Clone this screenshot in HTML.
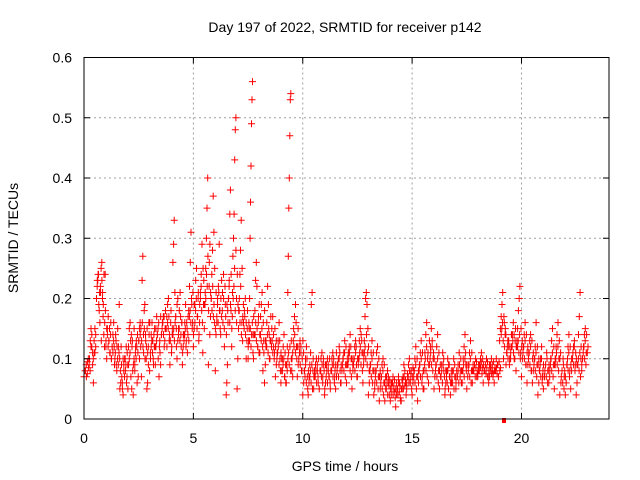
<!DOCTYPE html>
<html><head><meta charset="utf-8"><style>
html,body{margin:0;padding:0;background:#fff;}
svg{display:block;font-family:"Liberation Sans",sans-serif;}
</style></head><body>
<svg id="chart" width="640" height="480" viewBox="0 0 640 480" xmlns="http://www.w3.org/2000/svg">
<text x="345" y="32" font-size="14" text-anchor="middle" fill="#000">Day 197 of 2022, SRMTID for receiver p142</text>
<text x="345" y="471" font-size="14" text-anchor="middle" fill="#000">GPS time / hours</text>
<text x="18" y="238" font-size="14" text-anchor="middle" fill="#000" transform="rotate(-90 18 238)">SRMTID / TECUs</text>
<g id="grid"></g>
<g id="marks"></g>
<rect x="84" y="57.5" width="525" height="361.5" fill="none" stroke="#000" stroke-width="1"/>
<g id="ticks"></g>
</svg>
<script>
const xTicks = [0,5,10,15,20];
const yTicks = [0,0.1,0.2,0.3,0.4,0.5,0.6];
const yTickLabels = ["0","0.1","0.2","0.3","0.4","0.5","0.6"];
const slotTimes = [0,0.25,0.5,0.75,1,1.25,1.5,1.75,2,2.25,2.5,2.75,3,3.25,3.5,3.75,4,4.25,4.5,4.75,5,5.25,5.5,5.75,6,6.25,6.5,6.75,7,7.25,7.5,7.75,8,8.25,8.5,8.75,9,9.25,9.5,9.75,10,10.25,10.5,10.75,11,11.25,11.5,11.75,12,12.25,12.5,12.75,13,13.25,13.5,13.75,14,14.25,14.5,14.75,15,15.25,15.5,15.75,16,16.25,16.5,16.75,17,17.25,17.5,17.75,18,18.25,18.5,18.75,19,19.25,19.5,19.75,20,20.25,20.5,20.75,21,21.25,21.5,21.75,22,22.25,22.5,22.75];
const slotValues = [
[.07,.08,.09,.075,.085],[.1,.13,.15,.12,.09,.06,.11],[.11,.14,.2,.23,.24,.19,.21],[.22,.25,.26,.2,.17,.14,.12,.24],
[.12,.1,.15,.17,.13,.11,.14],[.1,.12,.14,.16,.09,.11,.13],[.08,.1,.12,.19,.05,.06,.09],[.06,.04,.09,.1,.08,.12,.07],
[.09,.12,.15,.16,.07,.05,.13],[.04,.1,.08,.12,.13,.06,.11],[.13,.15,.16,.12,.07,.23,.27,.14],[.18,.19,.14,.1,.05,.06,.12,.16],
[.08,.11,.14,.16,.13,.09,.12],[.12,.15,.17,.14,.1,.07,.13],[.09,.14,.16,.17,.12,.15],[.15,.17,.19,.2,.13,.09,.16],
[.11,.14,.26,.29,.33,.21,.17,.15],[.1,.13,.15,.18,.21,.14,.16],[.09,.12,.14,.16,.19,.13,.15],[.14,.18,.22,.26,.31,.19,.16],
[.12,.15,.19,.23,.25,.17,.2],[.13,.16,.21,.24,.29,.11,.19],[.15,.19,.25,.3,.35,.4,.09,.22],[.14,.17,.2,.24,.28,.37,.31,.16],
[.08,.14,.16,.2,.22,.29,.18],[.14,.17,.21,.24,.12,.19],[.04,.06,.09,.16,.2,.23,.34,.38,.18],[.12,.17,.27,.3,.34,.43,.48,.5,.2],
[.05,.1,.15,.18,.24,.28,.33,.16],[.13,.16,.18,.2,.1,.15],[.1,.13,.15,.2,.3,.36,.42,.49,.53,.56,.14],[.1,.14,.18,.23,.26,.22,.12,.16],
[.11,.14,.17,.19,.21,.08,.13],[.06,.09,.12,.16,.22,.19,.14],[.1,.13,.15,.17,.12,.11],[.07,.09,.11,.13,.16,.1],
[.06,.08,.1,.12,.14,.07,.09],[.06,.09,.12,.21,.27,.35,.4,.47,.53,.54,.1],[.08,.11,.15,.17,.19,.12],[.07,.09,.12,.13,.11,.08],
[.04,.06,.08,.1,.12,.07],[.04,.06,.09,.11,.19,.21,.08],[.05,.07,.09,.1,.08,.06],[.05,.08,.1,.11,.07,.09],
[.04,.06,.09,.1,.08,.07],[.06,.08,.1,.11,.09,.07],[.05,.07,.09,.1,.12,.08],[.06,.08,.1,.11,.13,.09],
[.06,.09,.11,.12,.14,.1],[.05,.08,.1,.12,.13,.09],[.07,.1,.13,.15,.14,.11],[.06,.09,.13,.17,.2,.21,.19,.11],
[.04,.06,.09,.11,.13,.08],[.04,.06,.08,.11,.12,.07],[.03,.05,.07,.09,.1,.06],[.03,.05,.07,.08,.06,.04],
[.03,.04,.06,.07,.05,.045],[.02,.04,.05,.07,.06,.035],[.03,.05,.07,.09,.08,.06],[.05,.07,.09,.1,.06,.08],
[.04,.06,.08,.1,.12,.07],[.03,.06,.09,.11,.13,.07],[.05,.08,.11,.14,.16,.1],[.06,.09,.12,.15,.13,.1],
[.05,.07,.09,.12,.14,.08],[.05,.07,.09,.11,.08],[.04,.06,.08,.1,.09,.07],[.04,.06,.08,.1,.07],
[.05,.07,.09,.11,.08],[.06,.08,.1,.12,.14,.09],[.05,.07,.09,.11,.13,.08],[.06,.08,.09,.1,.07],
[.07,.08,.09,.1,.11,.085],[.06,.08,.09,.1,.07],[.06,.07,.09,.1,.08,.075],[.06,.08,.1,.09,.07],
[.13,.15,.17,.19,.21,.1,.16],[.14,.09,.11,.13,.12,.1],[.1,.12,.14,.16,.1,.13],[.08,.12,.15,.18,.2,.22,.11],
[.07,.1,.12,.14,.16,.09],[.06,.09,.11,.13,.14,.08],[.06,.08,.1,.12,.16,.09],[.04,.06,.08,.1,.12,.07],
[.05,.07,.09,.11,.08],[.06,.08,.1,.13,.15,.09],[.05,.09,.12,.14,.16,.1],[.04,.06,.08,.1,.07],
[.04,.06,.09,.12,.14,.08],[.05,.08,.1,.12,.13,.09],[.04,.06,.09,.14,.17,.21,.1],[.08,.1,.12,.14,.15,.11]
];
const slotValuesB = [
[.08,.07,.095,.1,.09,.08],[.12,.14,.11,.1,.13,.15,.12],[.2,.22,.23,.24,.18,.16,.21,.13],[.23,.21,.19,.24,.16,.18,.13,.15],
[.14,.12,.13,.15,.11,.16,.1,.12],[.11,.13,.12,.1,.14,.09,.12,.15],[.09,.11,.1,.08,.12,.07,.05,.1],[.08,.07,.1,.09,.06,.11,.05,.09],
[.1,.11,.13,.14,.12,.08,.09,.15],[.09,.11,.1,.12,.14,.07,.13,.1],[.14,.15,.13,.16,.12,.11,.15,.1],[.13,.12,.15,.11,.09,.14,.16,.1],
[.12,.13,.11,.1,.14,.15,.09,.12],[.13,.14,.15,.16,.12,.11,.17,.14],[.15,.16,.14,.17,.13,.18,.15,.12],[.16,.15,.17,.14,.13,.18,.12,.15],
[.14,.15,.13,.16,.17,.12,.19,.2],[.14,.15,.13,.17,.12,.16,.11,.14],[.13,.14,.15,.12,.16,.11,.17,.13],[.17,.18,.16,.2,.15,.21,.14,.19],
[.16,.18,.2,.15,.17,.21,.14,.19],[.2,.22,.18,.16,.25,.23,.19,.21],[.2,.24,.22,.27,.18,.26,.29,.21],[.2,.18,.22,.17,.19,.25,.15,.21],
[.17,.19,.16,.21,.18,.15,.2,.23],[.18,.16,.2,.15,.22,.17,.14,.19],[.18,.2,.22,.16,.19,.24,.15,.21],[.2,.22,.25,.18,.28,.16,.24,.19],
[.18,.2,.16,.22,.14,.25,.17,.19],[.15,.17,.14,.16,.13,.18,.12,.16],[.13,.15,.12,.14,.16,.11,.17,.14],[.14,.16,.13,.15,.12,.17,.19,.11],
[.14,.13,.15,.12,.16,.11,.18,.13],[.13,.12,.14,.11,.15,.1,.13,.17],[.12,.13,.11,.14,.1,.15,.12,.13],[.1,.11,.12,.09,.13,.08,.11,.1],
[.08,.09,.1,.07,.11,.06,.09,.08],[.1,.11,.09,.12,.08,.13,.1,.07],[.13,.12,.14,.11,.16,.1,.12,.15],[.1,.11,.09,.12,.08,.1,.13,.11],
[.08,.07,.09,.06,.1,.05,.08,.07],[.07,.08,.06,.09,.05,.1,.07,.08],[.07,.08,.06,.09,.07,.1,.05,.08],[.08,.07,.09,.06,.1,.08,.05,.09],
[.07,.08,.06,.09,.07,.1,.05,.08],[.08,.09,.07,.1,.06,.08,.09,.11],[.08,.09,.07,.1,.11,.06,.09,.08],[.09,.1,.08,.11,.07,.12,.09,.1],
[.09,.1,.11,.08,.12,.07,.1,.09],[.09,.1,.08,.11,.12,.07,.1,.09],[.1,.11,.12,.09,.13,.08,.11,.1],[.11,.12,.1,.14,.09,.15,.12,.08],
[.08,.09,.07,.1,.06,.11,.08,.05],[.07,.08,.06,.09,.05,.1,.07,.08],[.06,.07,.05,.08,.04,.09,.06,.07],[.05,.06,.04,.07,.055,.065,.05,.06],
[.05,.06,.04,.055,.065,.035,.05,.06],[.05,.04,.06,.045,.055,.03,.05,.065],[.06,.05,.07,.055,.065,.04,.06,.075],[.07,.06,.08,.065,.075,.05,.07,.085],
[.07,.08,.06,.09,.05,.1,.07,.08],[.08,.09,.07,.1,.06,.11,.08,.05],[.09,.1,.08,.12,.07,.11,.09,.13],[.1,.11,.09,.12,.08,.11,.1,.07],
[.08,.09,.07,.1,.06,.11,.08,.09],[.07,.08,.06,.09,.1,.07,.05,.08],[.07,.06,.08,.05,.09,.07,.06,.08],[.07,.06,.08,.05,.09,.07,.06,.08],
[.07,.08,.06,.09,.07,.1,.08,.06],[.08,.09,.07,.1,.11,.08,.09,.07],[.08,.09,.07,.1,.06,.11,.08,.09],[.08,.09,.07,.085,.095,.075,.08,.09],
[.08,.09,.085,.095,.075,.1,.09,.08],[.08,.09,.075,.085,.095,.07,.08,.09],[.08,.085,.075,.09,.07,.095,.08,.085],[.08,.085,.075,.09,.07,.095,.08,.085],
[.14,.15,.16,.13,.17,.12,.15,.14],[.11,.12,.1,.13,.09,.12,.11,.14],[.12,.13,.11,.14,.1,.15,.12,.13],[.12,.13,.11,.14,.1,.15,.12,.13],
[.11,.12,.1,.13,.09,.14,.11,.12],[.1,.11,.09,.12,.08,.13,.1,.11],[.09,.1,.08,.11,.07,.12,.09,.1],[.08,.09,.07,.1,.06,.08,.09,.07],
[.08,.09,.07,.1,.06,.08,.09,.07],[.09,.1,.08,.11,.07,.12,.09,.1],[.1,.11,.09,.12,.08,.13,.1,.11],[.07,.08,.06,.09,.05,.08,.07,.06],
[.09,.1,.08,.11,.07,.12,.09,.1],[.1,.11,.09,.12,.08,.11,.1,.09],[.09,.1,.08,.11,.07,.12,.09,.1],[.11,.12,.1,.13,.09,.14,.11,.12]
];
const outlierTimes = [19.2];
const outlierValues = [0];

const NS = "http://www.w3.org/2000/svg";
const X0 = 84, X1 = 609, Y0 = 419, Y1 = 57.5, XMAX = 24, YMAX = 0.6;
function xs(t){ return X0 + (t / XMAX) * (X1 - X0); }
function ys(v){ return Y0 - (v / YMAX) * (Y0 - Y1); }
function mk(tag, attrs, parent){ const e = document.createElementNS(NS, tag); for (const k in attrs) e.setAttribute(k, attrs[k]); parent.appendChild(e); return e; }

const grid = document.getElementById('grid');
const ticks = document.getElementById('ticks');
const marks = document.getElementById('marks');

xTicks.forEach(t => {
  const x = xs(t);
  if (t > 0) {
    const g = mk('line', {x1:x, x2:x, y1:Y1, y2:Y0, stroke:'#a0a0a0', 'stroke-dasharray':'2,3', 'stroke-width':1}, grid);
    
    
  }
  const tk = mk('path', {d:`M${x},${Y0}v-6M${x},${Y1}v6`, stroke:'#000', 'stroke-width':1}, ticks);
  
  
  const lb = mk('text', {x:x, y:443, 'font-size':14, 'text-anchor':'middle', fill:'#000'}, ticks);
  lb.textContent = String(t);
  
  
});
yTicks.forEach((v, i) => {
  const y = ys(v);
  if (v > 0 && v < YMAX) {
    const g = mk('line', {x1:X0, x2:X1, y1:y, y2:y, stroke:'#a0a0a0', 'stroke-dasharray':'2,3', 'stroke-width':1}, grid);
    
    
  }
  const tk = mk('path', {d:`M${X0},${y}h6M${X1},${y}h-6`, stroke:'#000', 'stroke-width':1}, ticks);
  
  
  const lb = mk('text', {x:72, y:y+5, 'font-size':14, 'text-anchor':'end', fill:'#000'}, ticks);
  lb.textContent = yTickLabels[i];
  
  
});

let d = '';
function addSlots(vs, off){
  slotTimes.forEach((t, si) => {
    const vals = vs[si];
    vals.forEach((v, i) => {
      const x = xs(t + off + (i / vals.length) * 0.25);
      const y = ys(v);
      d += `M${(x-3.5).toFixed(1)},${y.toFixed(1)}h7M${x.toFixed(1)},${(y-3.5).toFixed(1)}v7`;
    });
  });
}
addSlots(slotValues, 0);
addSlots(slotValuesB, 0.07);
const p = mk('path', {d:d, stroke:'#ff0000', 'stroke-width':1, fill:'none'}, marks);


outlierTimes.forEach((t, i) => {
  const r = mk('rect', {x:xs(t)-2, y:ys(outlierValues[i])-1, width:4, height:5, fill:'#ff0000'}, marks);
  
  
});
</script>
</body></html>
